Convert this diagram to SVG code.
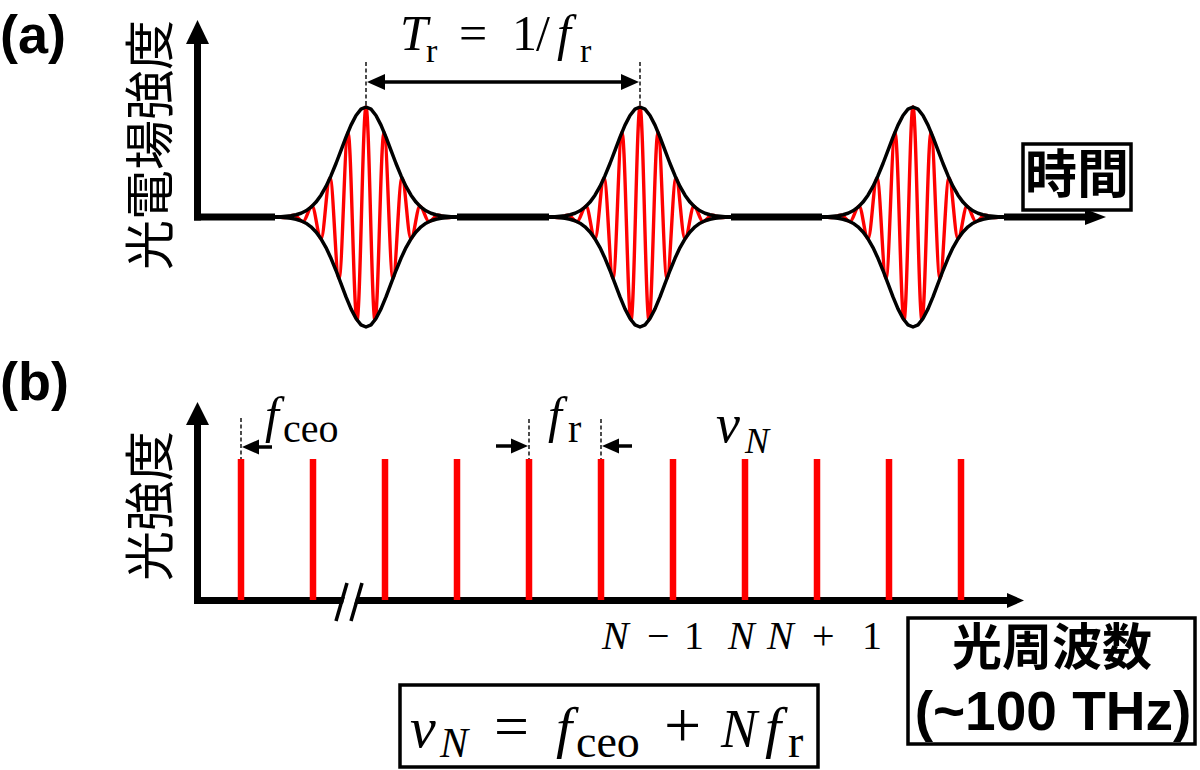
<svg xmlns="http://www.w3.org/2000/svg" xmlns:xlink="http://www.w3.org/1999/xlink" width="1200" height="770" viewBox="0 0 1200 770">
<style>
.lbl{font-family:"Liberation Sans",Arial,sans-serif;font-weight:bold;fill:#000}
.cjk{font-family:"Noto Sans CJK JP","Noto Sans CJK SC",sans-serif;fill:#000}
.math{font-family:"Liberation Serif","Times New Roman",serif;fill:#000}
.it{font-style:italic}
.axis{stroke:#000;stroke-width:7;fill:none}
.dim{stroke:#000;stroke-width:3.5;fill:none}
.dash{stroke:#000;stroke-width:1.4;stroke-dasharray:4 2.5;fill:none}
.head{fill:#000}
.box{fill:#fff;stroke:#000;stroke-width:3.5}
.comb{stroke:#ff0000;stroke-width:6.5}
.env{fill:none;stroke:#000;stroke-width:3.5;stroke-linejoin:round}
.car{fill:none;stroke:#ff0000;stroke-width:3.4;stroke-linejoin:round}
</style>
<defs>
<g id="pulse">
<rect x="-91" y="-5" width="182" height="10" fill="#fff"/>
<path class="car" d="M-90,-0.2 C-86.73,-0.2 -84.27,0.6 -81,0.6 C-77.73,0.6 -75.27,-1.7 -72,-1.7 C-68.73,-1.7 -66.27,4.6 -63,4.6 C-59.73,4.6 -57.27,-10.7 -54,-10.7 C-50.73,-10.7 -48.27,21.8 -45,21.8 C-41.73,21.8 -39.27,-39 -36,-39 C-32.73,-39 -30.27,61.4 -27,61.4 C-23.73,61.4 -21.27,-84.9 -18,-84.9 C-14.73,-84.9 -12.27,103.1 -9,103.1 C-5.73,103.1 -3.27,-110 0,-110 C3.27,-110 5.73,103.1 9,103.1 C12.27,103.1 14.73,-84.9 18,-84.9 C21.27,-84.9 23.73,61.4 27,61.4 C30.27,61.4 32.73,-39 36,-39 C39.27,-39 41.73,21.8 45,21.8 C48.27,21.8 50.73,-10.7 54,-10.7 C57.27,-10.7 59.73,4.6 63,4.6 C66.27,4.6 68.73,-1.7 72,-1.7 C75.27,-1.7 77.73,0.6 81,0.6 C84.27,0.6 86.73,-0.2 90,-0.2"/>
<polyline class="env" points="-91,0 -90,-0.2 -85,-0.3 -80,-0.7 -75,-1.2 -70,-2.2 -65,-3.7 -60,-6.2 -55,-9.8 -50,-14.9 -45,-21.8 -40,-30.6 -35,-41.3 -30,-53.5 -25,-66.7 -20,-79.9 -15,-91.9 -10,-101.5 -5,-107.8 0,-110 5,-107.8 10,-101.5 15,-91.9 20,-79.9 25,-66.7 30,-53.5 35,-41.3 40,-30.6 45,-21.8 50,-14.9 55,-9.8 60,-6.2 65,-3.7 70,-2.2 75,-1.2 80,-0.7 85,-0.3 90,-0.2 91,0"/>
<polyline class="env" points="-91,0 -90,0.2 -85,0.3 -80,0.7 -75,1.2 -70,2.2 -65,3.7 -60,6.2 -55,9.8 -50,14.9 -45,21.8 -40,30.6 -35,41.3 -30,53.5 -25,66.7 -20,79.9 -15,91.9 -10,101.5 -5,107.8 0,110 5,107.8 10,101.5 15,91.9 20,79.9 25,66.7 30,53.5 35,41.3 40,30.6 45,21.8 50,14.9 55,9.8 60,6.2 65,3.7 70,2.2 75,1.2 80,0.7 85,0.3 90,0.2 91,0"/>
</g>
</defs>
<rect width="1200" height="770" fill="#fff"/>

<g id="connectors">
<line class="axis" x1="197.5" y1="220.5" x2="197.5" y2="40"/>
<polygon class="head" points="197.5,20 186,44 209,44"/>
<line class="axis" x1="194" y1="217" x2="1090" y2="217"/>
<polygon class="head" points="1106,217 1085,209 1085,225"/>
<line class="axis" x1="197.5" y1="603.5" x2="197.5" y2="420"/>
<polygon class="head" points="197.5,402 186,425 209,425"/>
<line class="axis" x1="194" y1="600.5" x2="1010" y2="600.5"/>
<polygon class="head" points="1024,600.5 1007,593 1007,608"/>
<line x1="346.7" y1="611" x2="352.5" y2="590" stroke="#fff" stroke-width="11"/>
<line x1="336" y1="621" x2="347" y2="583" stroke="#000" stroke-width="3.5"/>
<line x1="351" y1="621" x2="362" y2="583" stroke="#000" stroke-width="3.5"/>
<line class="dash" x1="366" y1="62" x2="366" y2="106"/>
<line class="dash" x1="640" y1="62" x2="640" y2="106"/>
<line class="dim" x1="380" y1="82" x2="626" y2="82"/>
<polygon class="head" points="367,82 385,74 385,90"/>
<polygon class="head" points="639,82 621,74 621,90"/>
<line class="dash" x1="241" y1="418" x2="241" y2="459"/>
<line class="dim" x1="256" y1="447" x2="272" y2="447"/>
<polygon class="head" points="242,447 259,439.5 259,454.5"/>
<line class="dash" x1="529" y1="419" x2="529" y2="459"/>
<line class="dash" x1="601" y1="419" x2="601" y2="459"/>
<line class="dim" x1="496" y1="446" x2="514" y2="446"/>
<polygon class="head" points="528,446 511,438.5 511,453.5"/>
<line class="dim" x1="616" y1="446" x2="632" y2="446"/>
<polygon class="head" points="602,446 619,438.5 619,453.5"/>
</g>

<g id="pulses">
<use xlink:href="#pulse" href="#pulse" x="366" y="217"/>
<use xlink:href="#pulse" href="#pulse" x="640" y="217"/>
<use xlink:href="#pulse" href="#pulse" x="913" y="217"/>
</g>

<g id="comb">
<line class="comb" x1="241" y1="459" x2="241" y2="600"/>
<line class="comb" x1="313" y1="459" x2="313" y2="600"/>
<line class="comb" x1="385" y1="459" x2="385" y2="600"/>
<line class="comb" x1="457" y1="459" x2="457" y2="600"/>
<line class="comb" x1="529" y1="459" x2="529" y2="600"/>
<line class="comb" x1="601" y1="459" x2="601" y2="600"/>
<line class="comb" x1="673" y1="459" x2="673" y2="600"/>
<line class="comb" x1="745" y1="459" x2="745" y2="600"/>
<line class="comb" x1="817" y1="459" x2="817" y2="600"/>
<line class="comb" x1="889" y1="459" x2="889" y2="600"/>
<line class="comb" x1="961" y1="459" x2="961" y2="600"/>
</g>

<g id="label-a"><text class="lbl" x="0" y="53" font-size="54">(a)</text></g>
<g id="label-b"><text class="lbl" x="0" y="400" font-size="54">(b)</text></g>

<g id="ylabel-a"><text class="cjk" transform="translate(168,145) rotate(-90)" text-anchor="middle" font-size="50">光電場強度</text></g>
<g id="ylabel-b"><text class="cjk" transform="translate(168,506) rotate(-90)" text-anchor="middle" font-size="50">光強度</text></g>

<g id="time-box">
<rect class="box" x="1023" y="144" width="108" height="66"/>
<text class="cjk" x="1077" y="193" text-anchor="middle" font-size="52" font-weight="bold">時間</text>
</g>

<g id="tr-label">
<text class="math" font-size="50"><tspan class="it" x="400" y="50">T</tspan><tspan x="426" y="62" font-size="34">r</tspan><tspan x="459" y="50">=</tspan><tspan x="512" y="50">1</tspan><tspan x="536" y="50">/</tspan><tspan class="it" x="557" y="50">f</tspan><tspan x="580" y="62" font-size="34">r</tspan></text>
</g>

<g id="fceo-label">
<text class="math" font-size="50"><tspan class="it" x="265" y="432">f</tspan><tspan x="283" y="442" font-size="40">ceo</tspan></text>
</g>
<g id="fr-label">
<text class="math" font-size="50"><tspan class="it" x="548" y="432">f</tspan><tspan x="568" y="442" font-size="40">r</tspan></text>
</g>
<g id="nuN-label">
<text class="math" font-size="54"><tspan class="it" x="716" y="442">ν</tspan><tspan class="it" x="745" y="453" font-size="36">N</tspan></text>
</g>

<g id="index-labels">
<text class="math" font-size="40" y="649"><tspan class="it" x="602">N</tspan><tspan x="647">−</tspan><tspan x="684">1</tspan><tspan class="it" x="728">N</tspan><tspan class="it" x="767">N</tspan><tspan x="812">+</tspan><tspan x="862">1</tspan></text>
</g>

<g id="freq-box">
<rect class="box" x="908" y="618" width="287" height="126"/>
<text class="cjk" x="1052" y="665" text-anchor="middle" font-size="50" font-weight="bold">光周波数</text>
<text class="lbl" x="1053" y="730" text-anchor="middle" font-size="55">(~100 THz)</text>
</g>

<g id="formula-box">
<rect class="box" x="400" y="685" width="418" height="82"/>
<text class="math" font-size="58"><tspan class="it" x="410" y="747">ν</tspan><tspan class="it" x="440" y="757" font-size="42">N</tspan><tspan x="494" y="747" font-size="62">=</tspan><tspan class="it" x="556" y="747">f</tspan><tspan x="576" y="757" font-size="46">ceo</tspan><tspan x="664" y="747" font-size="66">+</tspan><tspan class="it" x="721" y="747" font-size="54">N</tspan><tspan class="it" x="765" y="747">f</tspan><tspan x="788" y="757" font-size="46">r</tspan></text>
</g>
</svg>
